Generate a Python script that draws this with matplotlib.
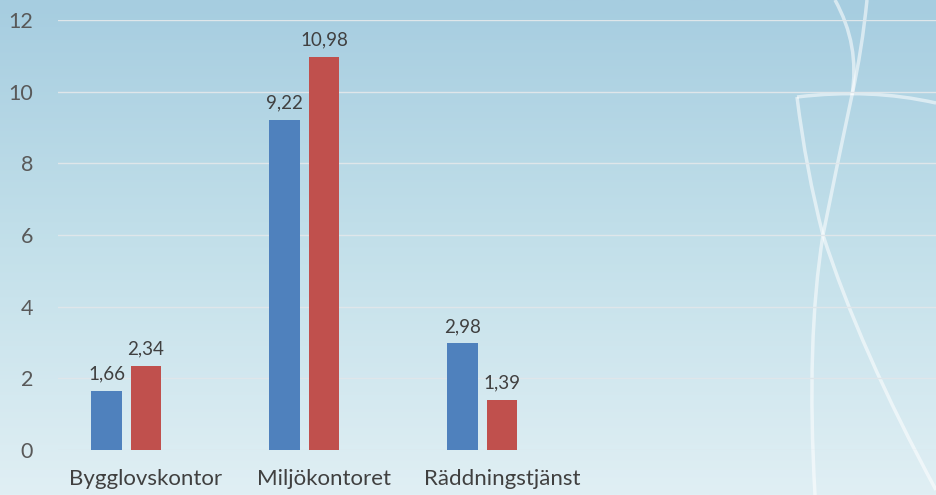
import numpy as np
import matplotlib
matplotlib.use('Agg')
import matplotlib.pyplot as plt
from matplotlib.path import Path
from matplotlib.patches import PathPatch
from matplotlib.colors import LinearSegmentedColormap

# Données
categories = ['Bygglovskontor', 'Miljökontoret', 'Räddningstjänst']
serie_bleue = [1.66, 9.22, 2.98]
serie_rouge = [2.34, 10.98, 1.39]
yticks = [0, 2, 4, 6, 8, 10, 12]

plt.rcParams['font.family'] = ['Lato', 'DejaVu Sans']

W, H = 936, 495
fig = plt.figure(figsize=(W / 100, H / 100), dpi=100)

# Fond dégradé + courbes décoratives
bg = fig.add_axes([0, 0, 1, 1])
bg.set_xlim(0, W)
bg.set_ylim(H, 0)
bg.axis('off')
cmap = LinearSegmentedColormap.from_list('bg', ['#a6cde0', '#c3e0ea', '#e0eff4'])
grad = np.linspace(0, 1, 256).reshape(-1, 1)
bg.imshow(grad, cmap=cmap, aspect='auto', extent=(0, W, H, 0), zorder=0)

courbes = [
    [(835, 0), (860, 45), (852, 95)],
    [(867, 0), (862, 50), (852, 95)],
    [(852, 95), (836, 170), (823, 235)],
    [(823, 235), (806, 340), (815, 495)],
    [(797, 97), (870, 88), (936, 103)],
    [(797, 97), (806, 170), (823, 235)],
    [(823, 235), (860, 350), (936, 490)],
]
for pts in courbes:
    path = Path(pts, [Path.MOVETO, Path.CURVE3, Path.CURVE3])
    bg.add_patch(PathPatch(path, fill=False, edgecolor='white', lw=2.5, alpha=0.55, zorder=1))

# Graphique principal (3e série vide -> barres décalées à gauche du centre)
ax = fig.add_axes([58 / W, 1 - 450 / H, 1 - 58 / W, (450 - 20) / H])
ax.patch.set_alpha(0)
x = np.arange(len(categories))
largeur = 0.174
pas = 0.222
b1 = ax.bar(x - pas, serie_bleue, largeur, color='#4f81bd', zorder=3)
b2 = ax.bar(x, serie_rouge, largeur, color='#c0504d', zorder=3)

for barres, vals in [(b1, serie_bleue), (b2, serie_rouge)]:
    for b, v in zip(barres, vals):
        ax.annotate(f'{v:.2f}'.replace('.', ','), (b.get_x() + b.get_width() / 2, v),
                    xytext=(0, 6), textcoords='offset points', ha='center', va='bottom',
                    fontsize=13.5, color='#404040')

ax.set_xlim((58 - 146) / 178, (936 - 146) / 178)
ax.set_ylim(0, 12)
ax.set_yticks(yticks)
ax.set_yticklabels([str(t) for t in yticks])
ax.set_xticks(x)
ax.set_xticklabels(categories)
ax.tick_params(axis='y', length=0, pad=18, labelsize=15.5, labelcolor='#595959')
ax.tick_params(axis='x', length=0, pad=14, labelsize=16, labelcolor='#404040')
ax.grid(axis='y', color='#dfe6ea', lw=1, zorder=0)
for s in ax.spines.values():
    s.set_visible(False)

fig.savefig('out.png', dpi=100)
